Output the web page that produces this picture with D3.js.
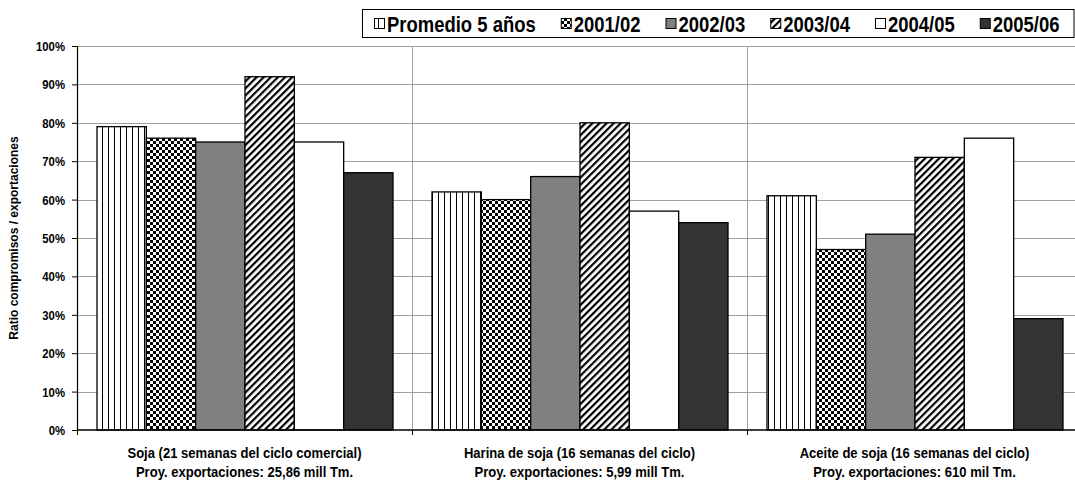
<!DOCTYPE html>
<html><head><meta charset="utf-8">
<script src="https://cdn.jsdelivr.net/npm/d3@7"></script>
<style>
body{margin:0;background:#fff;}
svg{display:block;}
.nar{font-family:"Liberation Sans",Arial,sans-serif;font-weight:bold;}
</style></head>
<body><svg id="c" width="1075" height="484"></svg>
<script>
const categories = [
  ["Soja (21 semanas del ciclo comercial)", "Proy. exportaciones: 25,86 mill Tm."],
  ["Harina de soja (16 semanas del ciclo)", "Proy. exportaciones: 5,99 mill Tm."],
  ["Aceite de soja (16 semanas del ciclo)", "Proy. exportaciones: 610 mil Tm."]
];
const seriesNames = ["Promedio 5 años", "2001/02", "2002/03", "2003/04", "2004/05", "2005/06"];
const promedio = [79, 62, 61];
const v2001 = [76, 60, 47];
const v2002 = [75, 66, 51];
const v2003 = [92, 80, 71];
const v2004 = [75, 57, 76];
const v2005 = [67, 54, 29];
const seriesValues = [promedio, v2001, v2002, v2003, v2004, v2005];
const yTicks = [0,10,20,30,40,50,60,70,80,90,100];
const yTitle = "Ratio compromisos / exportaciones";

(function(){
const svg = d3.select("#c");
const defs = svg.append("defs");
const pV = defs.append("pattern").attr("id","pV").attr("patternUnits","userSpaceOnUse").attr("width",6).attr("height",6);
pV.append("rect").attr("width",6).attr("height",6).attr("fill","#fff");
pV.append("line").attr("x1",0.5).attr("x2",0.5).attr("y1",0).attr("y2",6).attr("stroke","#000").attr("stroke-width",1);
const pC = defs.append("pattern").attr("id","pC").attr("patternUnits","userSpaceOnUse").attr("width",6).attr("height",6);
pC.append("rect").attr("width",6).attr("height",6).attr("fill","#fff");
pC.append("rect").attr("width",3).attr("height",3).attr("fill","#000");
pC.append("rect").attr("x",3).attr("y",3).attr("width",3).attr("height",3).attr("fill","#000");
const pD = defs.append("pattern").attr("id","pD").attr("patternUnits","userSpaceOnUse").attr("width",5).attr("height",5).attr("patternTransform","rotate(45)");
pD.append("rect").attr("width",5).attr("height",5).attr("fill","#fff");
pD.append("rect").attr("width",2.2).attr("height",5).attr("fill","#000");
const fills = ["url(#pV)","url(#pC)","#808080","url(#pD)","#ffffff","#333333"];

function ntext(parent, x, yy, size, sx, anchor, str){
  return parent.append("text").attr("class","nar")
    .attr("transform",`translate(${x},${yy}) scale(${sx},1)`)
    .attr("text-anchor",anchor).style("font-size",size+"px").attr("fill","#000").text(str);
}

const pL = 77, pR = 1082, pT = 46, pB = 430;
const y = d3.scaleLinear().domain([0,100]).range([pB, pT]);
const x0 = d3.scaleBand().domain(d3.range(categories.length)).range([pL, pR]);
const bw = x0.bandwidth();
const x1 = d3.scaleBand().domain(d3.range(seriesNames.length)).range([20, bw - 19]);

svg.append("g").selectAll("line").data(yTicks.filter(t=>t>0)).join("line")
  .attr("x1",pL).attr("x2",pR).attr("y1",d=>Math.round(y(d))+0.5).attr("y2",d=>Math.round(y(d))+0.5)
  .attr("stroke","#a0a0a0").attr("stroke-width",1);
svg.append("g").selectAll("line").data(d3.range(1,categories.length)).join("line")
  .attr("x1",d=>Math.round(x0(d))+0.5).attr("x2",d=>Math.round(x0(d))+0.5).attr("y1",pT).attr("y2",pB)
  .attr("stroke","#a0a0a0").attr("stroke-width",1);

const g = svg.append("g");
categories.forEach((c,ci)=>{
  seriesValues.forEach((vals,si)=>{
    const v = vals[ci];
    g.append("rect")
      .attr("x", x0(ci)+x1(si))
      .attr("y", y(v))
      .attr("width", x1.bandwidth())
      .attr("height", y(0)-y(v))
      .attr("fill", fills[si])
      .attr("stroke", "#000")
      .attr("stroke-width", 1.3);
  });
});

const ya = svg.append("g").attr("transform",`translate(${pL},0)`)
  .call(d3.axisLeft(y).tickValues(yTicks).tickFormat("").tickSize(5));
ya.select(".domain").attr("stroke","#000").attr("stroke-width",1.2);
ya.selectAll(".tick line").attr("stroke","#000");
const yl = svg.append("g");
yTicks.forEach(t=>ntext(yl, pL-12, y(t)+5, 13.5, 0.84, "end", t+"%"));

const xa = svg.append("g").attr("transform",`translate(0,${pB})`);
xa.append("line").attr("x1",pL).attr("x2",pR).attr("y1",0).attr("y2",0).attr("stroke","#000").attr("stroke-width",1.5);
xa.selectAll(".tk").data(d3.range(0,categories.length+1)).join("line")
  .attr("x1",d=>Math.round(d<categories.length?x0(d):pR)+0.5).attr("x2",d=>Math.round(d<categories.length?x0(d):pR)+0.5)
  .attr("y1",0).attr("y2",5).attr("stroke","#000");
categories.forEach((c,i)=>{
  ntext(xa, x0(i)+bw/2, 28, 15, 0.87, "middle", c[0]);
  ntext(xa, x0(i)+bw/2, 47, 15, 0.87, "middle", c[1]);
});

svg.append("text").attr("transform",`translate(18,${(pT+pB)/2}) rotate(-90)`)
  .attr("text-anchor","middle").style("font-family","'Liberation Sans',Arial,sans-serif")
  .style("font-weight","bold").style("font-size","12px").text(yTitle);

const lg = svg.append("g");
const box = lg.append("rect").attr("x",362.5).attr("y",9.5).attr("height",28).attr("fill","#fff").attr("stroke","#000").attr("stroke-width",1);
let cx = 374;
const LSX = 0.84;
seriesNames.forEach((n,i)=>{
  lg.append("rect").attr("x",cx+0.5).attr("y",18.5).attr("width",10).attr("height",10)
    .attr("fill",fills[i]).attr("stroke","#000").attr("stroke-width",1);
  const t = ntext(lg, cx+13, 32, 22, LSX, "start", n);
  cx = cx + 13 + t.node().getComputedTextLength()*LSX + 25;
});
box.attr("width", 1074-362.5);
})();
</script></body></html>
